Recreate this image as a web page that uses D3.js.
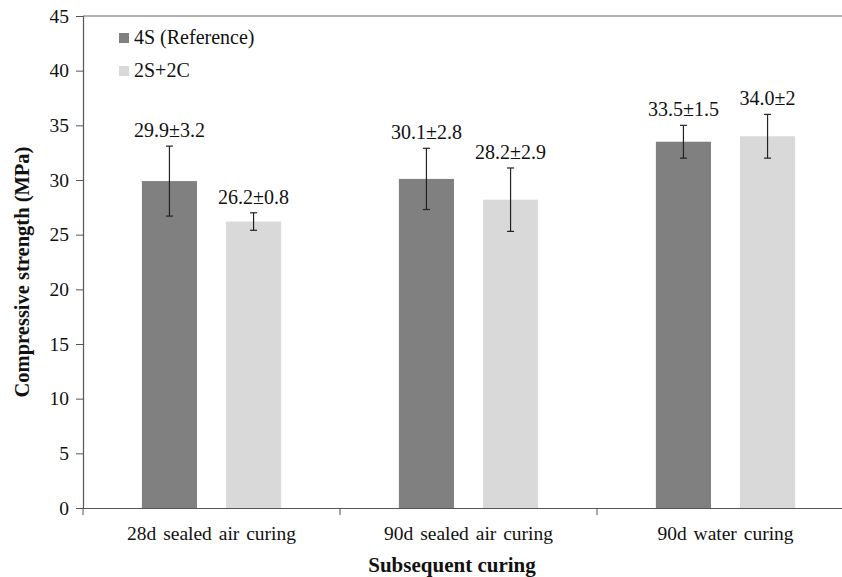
<!DOCTYPE html>
<meta charset="utf-8">
<script src="https://d3js.org/d3.v7.min.js"></script>
<style>
  body { margin: 0; background: #fff; }
  text { font-family: "Liberation Serif", "Times New Roman", serif; fill: #111; }
</style>
<div id="chart"></div>
<script>
// data
const categories = ["28d sealed air curing", "90d sealed air curing", "90d water curing"];
const series = ["4S (Reference)", "2S+2C"];
const means4S = [29.9, 30.1, 33.5];
const sd4S = [3.2, 2.8, 1.5];
const means2S2C = [26.2, 28.2, 34.0];
const sd2S2C = [0.8, 2.9, 2];
const labels4S = ["29.9±3.2", "30.1±2.8", "33.5±1.5"];
const labels2S2C = ["26.2±0.8", "28.2±2.9", "34.0±2"];
const yTicks = [0, 5, 10, 15, 20, 25, 30, 35, 40, 45];

const colors = {"4S (Reference)": "#808080", "2S+2C": "#d9d9d9"};
const serif = "'Liberation Serif', 'Times New Roman', serif";

const width = 842, height = 577;
const margin = {top: 16, right: -12, bottom: 69, left: 83};

const svg = d3.select("#chart").append("svg")
    .attr("width", width)
    .attr("height", height);

const rows = [];
categories.forEach((c, i) => {
  rows.push({cat: c, s: series[0], v: means4S[i], e: sd4S[i], lab: labels4S[i]});
  rows.push({cat: c, s: series[1], v: means2S2C[i], e: sd2S2C[i], lab: labels2S2C[i]});
});

const x0 = d3.scaleBand()
    .domain(categories)
    .range([margin.left, width - margin.right]);

const x1 = d3.scaleBand()
    .domain(series)
    .range([0, x0.bandwidth()])
    .paddingInner(0.345)
    .paddingOuter(0.70);

const y = d3.scaleLinear()
    .domain([0, 45])
    .range([height - margin.bottom, margin.top]);

// top border line at 45
svg.append("line")
    .attr("x1", margin.left).attr("x2", width)
    .attr("y1", y(45)).attr("y2", y(45))
    .attr("stroke", "#666").attr("stroke-width", 1.2);

// bars
svg.append("g").selectAll("rect")
  .data(rows)
  .join("rect")
    .attr("x", d => x0(d.cat) + x1(d.s))
    .attr("y", d => y(d.v))
    .attr("width", x1.bandwidth())
    .attr("height", d => y(0) - y(d.v))
    .attr("fill", d => colors[d.s]);

// error bars
const eb = svg.append("g").selectAll("g")
  .data(rows)
  .join("g")
    .attr("transform", d => `translate(${x0(d.cat) + x1(d.s) + x1.bandwidth() / 2},0)`);
eb.append("line")
    .attr("y1", d => y(d.v - d.e)).attr("y2", d => y(d.v + d.e))
    .attr("stroke", "#222").attr("stroke-width", 1.2);
eb.append("line")
    .attr("x1", -3.5).attr("x2", 3.5)
    .attr("y1", d => y(d.v + d.e)).attr("y2", d => y(d.v + d.e))
    .attr("stroke", "#222").attr("stroke-width", 1.2);
eb.append("line")
    .attr("x1", -3.5).attr("x2", 3.5)
    .attr("y1", d => y(d.v - d.e)).attr("y2", d => y(d.v - d.e))
    .attr("stroke", "#222").attr("stroke-width", 1.2);
eb.append("text")
    .attr("y", d => y(d.v + d.e) - 9)
    .attr("text-anchor", "middle")
    .style("font-family", serif)
    .style("font-size", "20px")
    .text(d => d.lab);

// y axis
const yAxis = svg.append("g")
    .attr("transform", `translate(${margin.left},0)`)
    .call(d3.axisLeft(y).tickValues(yTicks).tickSize(7).tickPadding(7));
yAxis.select(".domain").attr("stroke", "#555").attr("stroke-width", 1.2);
yAxis.selectAll(".tick line").attr("stroke", "#555");
yAxis.selectAll(".tick text")
    .style("font-size", "19.5px")
    .style("font-family", serif)
    .attr("fill", "#111");

// x axis
const xAxis = svg.append("g")
    .attr("transform", `translate(0,${y(0)})`)
    .call(d3.axisBottom(x0).tickSize(0).tickPadding(18));
xAxis.select(".domain").attr("stroke", "#555").attr("stroke-width", 1.2);
xAxis.selectAll(".tick text")
    .style("font-size", "19.5px")
    .style("font-family", serif)
    .style("word-spacing", "2px")
    .attr("fill", "#111");
// category boundary ticks
xAxis.selectAll(".sep")
  .data(categories)
  .join("line")
    .attr("x1", d => x0(d)).attr("x2", d => x0(d))
    .attr("y1", 0).attr("y2", 7)
    .attr("stroke", "#555");

// axis titles
svg.append("text")
    .attr("transform", `translate(29,${(y(0) + y(45)) / 2 + 10}) rotate(-90)`)
    .attr("text-anchor", "middle")
    .style("font-family", serif)
    .style("font-size", "20.5px")
    .style("font-weight", "bold")
    .text("Compressive strength (MPa)");

svg.append("text")
    .attr("x", 452)
    .attr("y", 572)
    .attr("text-anchor", "middle")
    .style("font-family", serif)
    .style("font-size", "21px")
    .style("font-weight", "bold")
    .text("Subsequent curing");

// legend
const legend = svg.append("g").selectAll("g")
  .data(series)
  .join("g")
    .attr("transform", (d, i) => `translate(119,${33 + i * 33})`);
legend.append("rect")
    .attr("width", 10).attr("height", 10)
    .attr("fill", d => colors[d]);
legend.append("text")
    .attr("x", 15).attr("y", 11)
    .style("font-family", serif)
    .style("font-size", "20px")
    .text(d => d);
</script>
